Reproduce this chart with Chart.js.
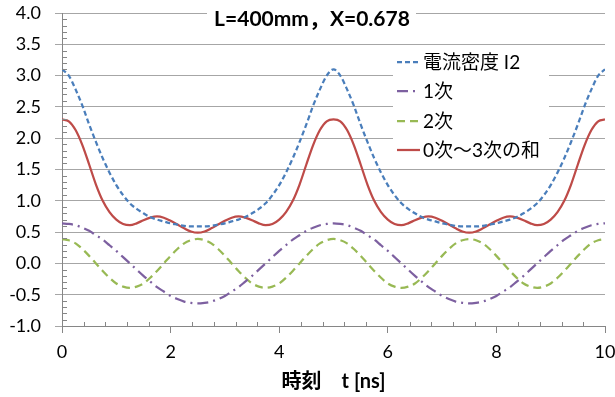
<!DOCTYPE html>
<html>
<head>
<meta charset="utf-8">
<script src="https://cdn.jsdelivr.net/npm/chart.js@4/dist/chart.umd.min.js"></script>
<style>
  html, body { margin: 0; padding: 0; background: #ffffff; }
  #c { display: block; }
</style>
</head>
<body>
<canvas id="c" width="615" height="397"></canvas>
<script>
// Time axis in ns, sampled every 0.125 ns
const timeNs = [
  0, 0.125, 0.25, 0.375, 0.5, 0.625, 0.75, 0.875, 1, 1.125, 1.25, 1.375, 1.5, 1.625, 1.75, 1.875, 2, 2.125, 2.25, 2.375,
  2.5, 2.625, 2.75, 2.875, 3, 3.125, 3.25, 3.375, 3.5, 3.625, 3.75, 3.875, 4, 4.125, 4.25, 4.375, 4.5, 4.625, 4.75, 4.875,
  5, 5.125, 5.25, 5.375, 5.5, 5.625, 5.75, 5.875, 6, 6.125, 6.25, 6.375, 6.5, 6.625, 6.75, 6.875, 7, 7.125, 7.25, 7.375,
  7.5, 7.625, 7.75, 7.875, 8, 8.125, 8.25, 8.375, 8.5, 8.625, 8.75, 8.875, 9, 9.125, 9.25, 9.375, 9.5, 9.625, 9.75, 9.875,
  10
];

// 電流密度 I2
const currentDensity = [
  3.10, 3.00, 2.78, 2.52, 2.22, 1.94, 1.68, 1.45, 1.25, 1.09, 0.96, 0.87, 0.80, 0.74, 0.70, 0.67, 0.64, 0.62, 0.60, 0.59,
  0.59, 0.59, 0.60, 0.62, 0.64, 0.67, 0.70, 0.74, 0.80, 0.87, 0.96, 1.09, 1.25, 1.45, 1.68, 1.94, 2.22, 2.52, 2.78, 3.00,
  3.10, 3.00, 2.78, 2.52, 2.22, 1.94, 1.68, 1.45, 1.25, 1.09, 0.96, 0.87, 0.80, 0.74, 0.70, 0.67, 0.64, 0.62, 0.60, 0.59,
  0.59, 0.59, 0.60, 0.62, 0.64, 0.67, 0.70, 0.74, 0.80, 0.87, 0.96, 1.09, 1.25, 1.45, 1.68, 1.94, 2.22, 2.52, 2.78, 3.00,
  3.10
];

// 1次
const harmonic1 = [
  0.64, 0.63, 0.61, 0.57, 0.52, 0.45, 0.38, 0.29, 0.20, 0.10, 0.00, -0.10, -0.20, -0.29, -0.38, -0.45, -0.52, -0.57, -0.61, -0.63,
  -0.64, -0.63, -0.61, -0.57, -0.52, -0.45, -0.38, -0.29, -0.20, -0.10, 0.00, 0.10, 0.20, 0.29, 0.38, 0.45, 0.52, 0.57, 0.61, 0.63,
  0.64, 0.63, 0.61, 0.57, 0.52, 0.45, 0.38, 0.29, 0.20, 0.10, 0.00, -0.10, -0.20, -0.29, -0.38, -0.45, -0.52, -0.57, -0.61, -0.63,
  -0.64, -0.63, -0.61, -0.57, -0.52, -0.45, -0.38, -0.29, -0.20, -0.10, 0.00, 0.10, 0.20, 0.29, 0.38, 0.45, 0.52, 0.57, 0.61, 0.63,
  0.64
];

// 2次
const harmonic2 = [
  0.39, 0.37, 0.32, 0.23, 0.12, 0.00, -0.12, -0.23, -0.32, -0.37, -0.39, -0.37, -0.32, -0.23, -0.12, 0.00, 0.12, 0.23, 0.32, 0.37,
  0.39, 0.37, 0.32, 0.23, 0.12, 0.00, -0.12, -0.23, -0.32, -0.37, -0.39, -0.37, -0.32, -0.23, -0.12, 0.00, 0.12, 0.23, 0.32, 0.37,
  0.39, 0.37, 0.32, 0.23, 0.12, 0.00, -0.12, -0.23, -0.32, -0.37, -0.39, -0.37, -0.32, -0.23, -0.12, 0.00, 0.12, 0.23, 0.32, 0.37,
  0.39, 0.37, 0.32, 0.23, 0.12, 0.00, -0.12, -0.23, -0.32, -0.37, -0.39, -0.37, -0.32, -0.23, -0.12, 0.00, 0.12, 0.23, 0.32, 0.37,
  0.39
];

// 0次〜3次の和
const harmonicSum = [
  2.30, 2.27, 2.13, 1.89, 1.58, 1.26, 1.00, 0.82, 0.70, 0.63, 0.61, 0.64, 0.69, 0.73, 0.75, 0.73, 0.68, 0.62, 0.56, 0.51,
  0.49, 0.51, 0.56, 0.62, 0.68, 0.73, 0.75, 0.73, 0.69, 0.64, 0.61, 0.63, 0.70, 0.82, 1.00, 1.26, 1.58, 1.89, 2.13, 2.27,
  2.30, 2.27, 2.13, 1.89, 1.58, 1.26, 1.00, 0.82, 0.70, 0.63, 0.61, 0.64, 0.69, 0.73, 0.75, 0.73, 0.68, 0.62, 0.56, 0.51,
  0.49, 0.51, 0.56, 0.62, 0.68, 0.73, 0.75, 0.73, 0.69, 0.64, 0.61, 0.63, 0.70, 0.82, 1.00, 1.26, 1.58, 1.89, 2.13, 2.27,
  2.30
];

const seriesNames = ['電流密度 I2', '1次', '2次', '0次〜3次の和'];
const chartTitle = 'L=400mm，X=0.678';
const xAxisTitle = '時刻　t [ns]';

const FONT = "Lato, 'Noto Sans CJK JP', sans-serif";

function toPoints(values) {
  return values.map((v, i) => ({ x: timeNs[i], y: v }));
}

function lineDataset(label, values, color, dash) {
  return {
    label,
    data: toPoints(values),
    borderColor: color,
    backgroundColor: color,
    borderWidth: 2.25,
    borderDash: dash,
    borderCapStyle: 'butt',
    pointRadius: 0,
    fill: false,
    cubicInterpolationMode: 'monotone'
  };
}

// Small inner tick marks between the labelled ticks
const minorTicks = {
  id: 'minorTicks',
  afterDatasetsDraw(chart) {
    const { ctx, chartArea } = chart;
    const xs = chart.scales.x, ys = chart.scales.y;
    ctx.save();
    ctx.strokeStyle = '#868686';
    ctx.lineWidth = 1;
    ctx.beginPath();
    for (let k = -10; k <= 40; k++) {
      if (k % 5 === 0) continue;
      const y = Math.round(ys.getPixelForValue(k / 10)) + 0.5;
      ctx.moveTo(chartArea.left, y);
      ctx.lineTo(chartArea.left + 5, y);
    }
    for (let k = 0; k <= 25; k++) {
      if (k % 5 === 0) continue;
      const x = Math.round(xs.getPixelForValue(k * 0.4)) + 0.5;
      ctx.moveTo(x, chartArea.bottom);
      ctx.lineTo(x, chartArea.bottom - 4);
    }
    ctx.stroke();
    ctx.restore();
  }
};

// Title and legend boxes drawn over the grid
const overlays = {
  id: 'overlays',
  afterDraw(chart) {
    const { ctx } = chart;
    ctx.save();
    // title
    ctx.fillStyle = '#ffffff';
    ctx.fillRect(207, 0, 209, 34);
    ctx.fillStyle = '#000000';
    ctx.font = "bold 21px " + FONT;
    ctx.textAlign = 'center';
    ctx.textBaseline = 'middle';
    ctx.fillText(chartTitle, 312, 19);

    // legend
    ctx.fillStyle = '#ffffff';
    ctx.fillRect(393, 47, 156, 117);
    ctx.font = "19px " + FONT;
    ctx.textAlign = 'left';
    ctx.textBaseline = 'middle';
    chart.data.datasets.forEach((ds, i) => {
      const y = Math.round(62 + i * 29.4);
      ctx.strokeStyle = ds.borderColor;
      ctx.lineWidth = ds.borderWidth;
      ctx.setLineDash(ds.borderDash || []);
      ctx.beginPath();
      ctx.moveTo(397, y);
      ctx.lineTo(420, y);
      ctx.stroke();
      ctx.setLineDash([]);
      ctx.fillStyle = '#000000';
      ctx.fillText(ds.label, 423, y + 1);
    });
    ctx.restore();
  }
};

new Chart(document.getElementById('c'), {
  type: 'line',
  data: {
    datasets: [
      lineDataset(seriesNames[0], currentDensity, '#4a7ebb', [5, 3]),
      lineDataset(seriesNames[1], harmonic1, '#7d60a0', [11, 5, 2, 5]),
      lineDataset(seriesNames[2], harmonic2, '#98b954', [8, 5]),
      lineDataset(seriesNames[3], harmonicSum, '#be4b48', [])
    ]
  },
  options: {
    responsive: false,
    animation: false,
    devicePixelRatio: 1,
    layout: { padding: { top: 13, right: 10, left: 0, bottom: 0 } },
    plugins: {
      legend: { display: false },
      tooltip: { enabled: false },
      title: { display: false }
    },
    scales: {
      x: {
        type: 'linear',
        min: 0,
        max: 10,
        ticks: {
          stepSize: 2,
          color: '#000000',
          font: { family: FONT, size: 18 },
          padding: 8,
          maxRotation: 0,
          autoSkip: false
        },
        grid: { drawOnChartArea: false, drawTicks: true, tickLength: 7, color: '#868686' },
        border: { display: true, color: '#868686', width: 1 },
        title: {
          display: true,
          text: xAxisTitle,
          color: '#000000',
          font: { family: FONT, size: 20, weight: 'bold' },
          padding: { top: 0, bottom: 3 }
        },
        afterFit(scale) {
          scale.height = 71;
          scale.paddingLeft = 0;
          scale.paddingRight = 0;
        }
      },
      y: {
        min: -1,
        max: 4,
        ticks: {
          stepSize: 0.5,
          color: '#000000',
          font: { family: FONT, size: 18 },
          padding: 14,
          callback: (v) => Number(v).toFixed(1)
        },
        grid: { color: '#a6a6a6', tickLength: 7, drawTicks: true },
        border: { display: true, color: '#868686', width: 1 },
        afterFit(scale) {
          scale.width = 62;
          scale.paddingTop = 0;
          scale.paddingBottom = 0;
        }
      }
    }
  },
  plugins: [minorTicks, overlays]
});
</script>
</body>
</html>
